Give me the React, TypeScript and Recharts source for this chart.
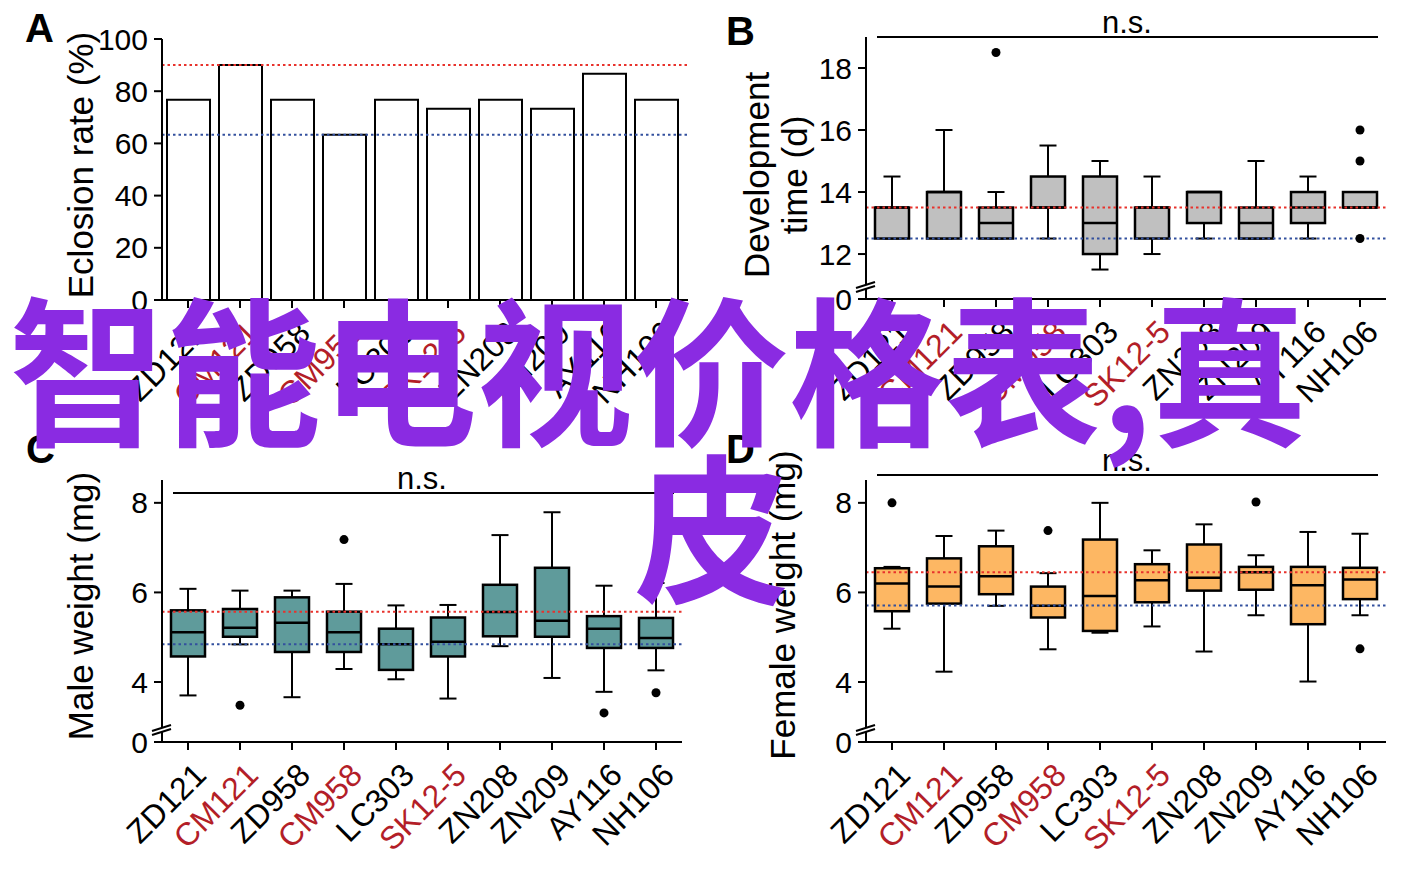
import React from 'react';
import {
  ComposedChart, Bar, XAxis, YAxis, ReferenceLine, Scatter,
} from 'recharts';

// ── data ──────────────────────────────────────────────────────────────────────

const strains = ['ZD121', 'CM121', 'ZD958', 'CM958', 'LC303', 'SK12-5', 'ZN208', 'ZN209', 'AY116', 'NH106'];
const redStrains = ['CM121', 'CM958', 'SK12-5'];

// A: eclosion rate (%)
const eclosionRate = [76.7, 90, 76.7, 63.3, 76.7, 73.3, 76.7, 73.3, 86.7, 76.7];
const eclosionRefs = [90, 63.3];
const eclosionTicks = [0, 20, 40, 60, 80, 100];

// B: development time (d)
const devMin = [12.5, 12.5, 12.5, 12.5, 11.5, 12, 12.5, 12.5, 12.5, 13.5];
const devQ1 = [12.5, 12.5, 12.5, 13.5, 12, 12.5, 13, 12.5, 13, 13.5];
const devMed = [13.5, 14, 13, 13.5, 13, 13.5, 14, 13, 13.5, 13.5];
const devQ3 = [13.5, 14, 13.5, 14.5, 14.5, 13.5, 14, 13.5, 14, 14];
const devMax = [14.5, 16, 14, 15.5, 15, 14.5, 14, 15, 14.5, 14];
const devOutliers = [[], [], [18.5], [], [], [], [], [], [], [16, 15, 12.5]];
const devRefs = [13.5, 12.5];
const devDomain = [10.55, 19];
const devTicks = [10.55, 12, 14, 16, 18];

// C: male weight (mg)
const maleMin = [3.70, 4.84, 3.66, 4.29, 4.06, 3.63, 4.80, 4.09, 3.78, 4.26];
const maleQ1 = [4.57, 5.01, 4.67, 4.67, 4.27, 4.57, 5.02, 5.01, 4.76, 4.76];
const maleMed = [5.11, 5.21, 5.32, 5.11, 4.84, 4.90, 5.56, 5.37, 5.19, 4.98];
const maleQ3 = [5.60, 5.63, 5.89, 5.57, 5.19, 5.44, 6.17, 6.55, 5.47, 5.43];
const maleMax = [6.08, 6.04, 6.04, 6.19, 5.71, 5.72, 7.28, 7.79, 6.15, 6.21];
const maleOutliers = [[], [3.48], [], [7.18], [], [], [], [], [3.31], [3.76]];
const maleRefs = [5.57, 4.84];

// D: female weight (mg)
const femMin = [5.19, 4.23, 5.70, 4.73, 5.10, 5.24, 4.68, 5.49, 4.01, 5.49];
const femQ1 = [5.58, 5.75, 5.96, 5.44, 5.14, 5.78, 6.04, 6.06, 5.29, 5.85];
const femMed = [6.20, 6.13, 6.36, 5.70, 5.92, 6.27, 6.33, 6.45, 6.16, 6.29];
const femQ3 = [6.54, 6.76, 7.03, 6.13, 7.18, 6.63, 7.07, 6.57, 6.57, 6.55];
const femMax = [6.57, 7.26, 7.38, 6.43, 8.0, 6.94, 7.52, 6.83, 7.35, 7.31];
const femOutliers = [[8.0], [], [], [7.38], [], [], [], [8.02], [], [4.74]];
const femRefs = [6.45, 5.71];

const weightDomain = [2.66, 8.51];
const weightTicks = [2.66, 4, 6, 8];

// ── style ─────────────────────────────────────────────────────────────────────

const FONT = "'Liberation Sans', Arial, Helvetica, sans-serif";
const CJK = "'Noto Sans CJK SC', 'Noto Sans', sans-serif";
const RED_LINE = '#e8322c';
const BLUE_LINE = '#33509e';
const RED_TEXT = '#b31e28';

const buildBoxRows = (mn: number[], q1: number[], md: number[], q3: number[], mx: number[], out: number[][]) =>
  strains.map((name, i) => ({
    name,
    min: mn[i], q1: q1[i], med: md[i], q3: q3[i], max: mx[i],
    o1: out[i][0] ?? null, o2: out[i][1] ?? null, o3: out[i][2] ?? null,
  }));

const devRows = buildBoxRows(devMin, devQ1, devMed, devQ3, devMax, devOutliers);
const maleRows = buildBoxRows(maleMin, maleQ1, maleMed, maleQ3, maleMax, maleOutliers);
const femRows = buildBoxRows(femMin, femQ1, femMed, femQ3, femMax, femOutliers);
const eclosionRows = strains.map((name, i) => ({ name, rate: eclosionRate[i] }));

// ── pieces ────────────────────────────────────────────────────────────────────

function StrainTick(props: any) {
  const { x, y, payload } = props;
  const red = redStrains.includes(payload.value);
  return (
    <g transform={`translate(${x + 20},${y + 25}) rotate(-45)`}>
      <text textAnchor="end" fontSize={32} fontFamily={FONT} fill={red ? RED_TEXT : '#000'}>
        {payload.value}
      </text>
    </g>
  );
}

function makeBoxShape(rows: any[]) {
  return (props: any) => {
    const { x, y, width, height, fill, index } = props;
    const d = props.payload ?? rows[index];
    if (x == null || !d) return <g />;
    const top = Math.min(y, y + height);
    const h = Math.abs(height);
    const span = d.max - d.min || 1;
    const py = (v: number) => top + ((d.max - v) / span) * h;
    const cx = x + width / 2;
    const cap = width * 0.5;
    const yQ1 = py(d.q1);
    const yQ3 = py(d.q3);
    const yMed = py(d.med);
    const bottom = top + h;
    return (
      <g>
        <line x1={cx} x2={cx} y1={top} y2={yQ3} stroke="#000" strokeWidth={2} />
        <line x1={cx} x2={cx} y1={yQ1} y2={bottom} stroke="#000" strokeWidth={2} />
        <line x1={cx - cap / 2} x2={cx + cap / 2} y1={top} y2={top} stroke="#000" strokeWidth={2} />
        <line x1={cx - cap / 2} x2={cx + cap / 2} y1={bottom} y2={bottom} stroke="#000" strokeWidth={2} />
        <rect x={x} y={yQ3} width={width} height={Math.max(yQ1 - yQ3, 0)} fill={fill} stroke="#000" strokeWidth={2.5} />
        <line x1={x} x2={x + width} y1={yMed} y2={yMed} stroke="#000" strokeWidth={2.5} />
      </g>
    );
  };
}

const dotShape = (key: string) => (p: any) => {
  if (p?.payload?.[key] == null || p.cy == null || Number.isNaN(p.cy)) return <g />;
  return <circle cx={p.cx} cy={p.cy} r={4.5} fill="#000" />;
};

const axisStroke = { stroke: '#000', strokeWidth: 2 };
const yTickStyle = { fontSize: 30, fill: '#000', fontFamily: FONT };

function AxisBreak({ left, top }: { left: number; top: number }) {
  return (
    <svg style={{ position: 'absolute', left: left - 10, top: top - 8, overflow: 'visible' }} width={22} height={16}>
      <polygon points="0,10 20,4 20,8 0,14" fill="#fff" />
      <line x1={0} y1={10} x2={19} y2={4} stroke="#000" strokeWidth={2} />
      <line x1={0} y1={14} x2={19} y2={8} stroke="#000" strokeWidth={2} />
    </svg>
  );
}

function BoxPanel({ rows, domain, ticks, fill, refs, left, top, width, height, plotTop, plotBottom, marginLeft, marginRight }: any) {
  const breakVal = domain[0];
  return (
    <div style={{ position: 'absolute', left, top }}>
      <ComposedChart
        width={width}
        height={height}
        data={rows}
        margin={{ top: plotTop, right: marginRight, left: marginLeft, bottom: 0 }}
      >
        <XAxis
          dataKey="name"
          interval={0}
          height={height - plotBottom}
          axisLine={axisStroke}
          tickLine={axisStroke}
          tickSize={8}
          tick={(p: any) => <StrainTick {...p} />}
        />
        <YAxis
          type="number"
          domain={domain}
          ticks={ticks}
          interval={0}
          allowDataOverflow
          width={100}
          axisLine={axisStroke}
          tickLine={axisStroke}
          tickSize={8}
          tickMargin={6}
          tick={yTickStyle}
          tickFormatter={(v: number) => (v === breakVal ? '0' : String(v))}
        />
        <Bar
          dataKey={(d: any) => [d.min, d.max]}
          barSize={34}
          fill={fill}
          isAnimationActive={false}
          shape={makeBoxShape(rows)}
        />
        <Scatter dataKey="o1" isAnimationActive={false} shape={dotShape('o1')} />
        <Scatter dataKey="o2" isAnimationActive={false} shape={dotShape('o2')} />
        <Scatter dataKey="o3" isAnimationActive={false} shape={dotShape('o3')} />
        <ReferenceLine y={refs[0]} stroke={RED_LINE} strokeWidth={2} strokeDasharray="2.5 3" />
        <ReferenceLine y={refs[1]} stroke={BLUE_LINE} strokeWidth={2} strokeDasharray="2.5 3" />
      </ComposedChart>
    </div>
  );
}

const abs = (s: React.CSSProperties): React.CSSProperties => ({ position: 'absolute', lineHeight: 1, whiteSpace: 'nowrap', ...s });
const yTitle = (left: number, top: number): React.CSSProperties =>
  abs({ left, top, fontSize: 35, transform: 'translate(-50%, -50%) rotate(-90deg)', textAlign: 'center' });
const letter = (left: number, top: number) => abs({ left, top, fontSize: 40, fontWeight: 700 });
const ns = (cx: number, top: number) => abs({ left: cx, top, fontSize: 31, transform: 'translateX(-50%)' });
const nsLine = (left: number, right: number, top: number) =>
  abs({ left, top: top - 1, width: right - left, height: 2, background: '#000' });
const overlay = (left: number, top: number) =>
  abs({
    left, top, fontSize: 160, fontWeight: 700, color: '#8a2be2', fontFamily: CJK,
    transform: 'scaleX(0.975)', transformOrigin: 'left top',
  });

// ── main ──────────────────────────────────────────────────────────────────────

export default function App() {
  return (
    <div style={{ position: 'absolute', left: 0, top: 0, width: 1418, height: 869, background: '#fff', fontFamily: FONT, color: '#000', overflow: 'hidden' }}>
      {/* A: eclosion rate bars */}
      <div style={{ position: 'absolute', left: 0, top: 0 }}>
        <ComposedChart width={700} height={420} data={eclosionRows} margin={{ top: 39, right: 12, left: 62, bottom: 0 }}>
          <XAxis
            dataKey="name"
            interval={0}
            height={120}
            padding={{ left: 0, right: 6 }}
            axisLine={axisStroke}
            tickLine={axisStroke}
            tickSize={8}
            tick={(p: any) => <StrainTick {...p} />}
          />
          <YAxis
            type="number"
            domain={[0, 100]}
            ticks={eclosionTicks}
            interval={0}
            width={100}
            axisLine={axisStroke}
            tickLine={axisStroke}
            tickSize={8}
            tickMargin={6}
            tick={yTickStyle}
          />
          <Bar dataKey="rate" barSize={43} fill="#fff" stroke="#000" strokeWidth={2} isAnimationActive={false} />
          <ReferenceLine y={eclosionRefs[0]} stroke={RED_LINE} strokeWidth={2} strokeDasharray="2.5 3" />
          <ReferenceLine y={eclosionRefs[1]} stroke={BLUE_LINE} strokeWidth={2} strokeDasharray="2.5 3" />
        </ComposedChart>
      </div>

      {/* B: development time */}
      <BoxPanel rows={devRows} domain={devDomain} ticks={devTicks} fill="#c0c0c0" refs={devRefs}
        left={700} top={0} width={718} height={420} plotTop={37} plotBottom={299} marginLeft={66} marginRight={32} />
      {/* C: male weight */}
      <BoxPanel rows={maleRows} domain={weightDomain} ticks={weightTicks} fill="#5f9b9b" refs={maleRefs}
        left={0} top={430} width={700} height={439} plotTop={50} plotBottom={312} marginLeft={62} marginRight={18} />
      {/* D: female weight */}
      <BoxPanel rows={femRows} domain={weightDomain} ticks={weightTicks} fill="#fdb763" refs={femRefs}
        left={700} top={430} width={718} height={439} plotTop={50} plotBottom={312} marginLeft={66} marginRight={32} />

      <AxisBreak left={866} top={286} />
      <AxisBreak left={162} top={729} />
      <AxisBreak left={866} top={729} />

      {/* titles & annotations */}
      <div style={letter(25, 8)}>A</div>
      <div style={letter(726, 11)}>B</div>
      <div style={letter(26, 429)}>C</div>
      <div style={letter(726, 429)}>D</div>

      <div style={yTitle(80, 165)}>Eclosion rate (%)</div>
      <div style={{ ...yTitle(776, 175), lineHeight: '38px' }}>Development<br />time (d)</div>
      <div style={yTitle(80, 606)}>Male weight (mg)</div>
      <div style={yTitle(782, 605)}>Female weight (mg)</div>

      <div style={ns(1127, 7)}>n.s.</div>
      <div style={nsLine(877, 1378, 37)} />
      <div style={ns(422, 463)}>n.s.</div>
      <div style={nsLine(173, 674, 493)} />
      <div style={ns(1127, 445)}>n.s.</div>
      <div style={nsLine(877, 1378, 475)} />

      {/* overlay */}
      <div style={overlay(9, 284)}>智能电视价格表,真</div>
      <div style={overlay(634, 441)}>皮</div>
    </div>
  );
}
